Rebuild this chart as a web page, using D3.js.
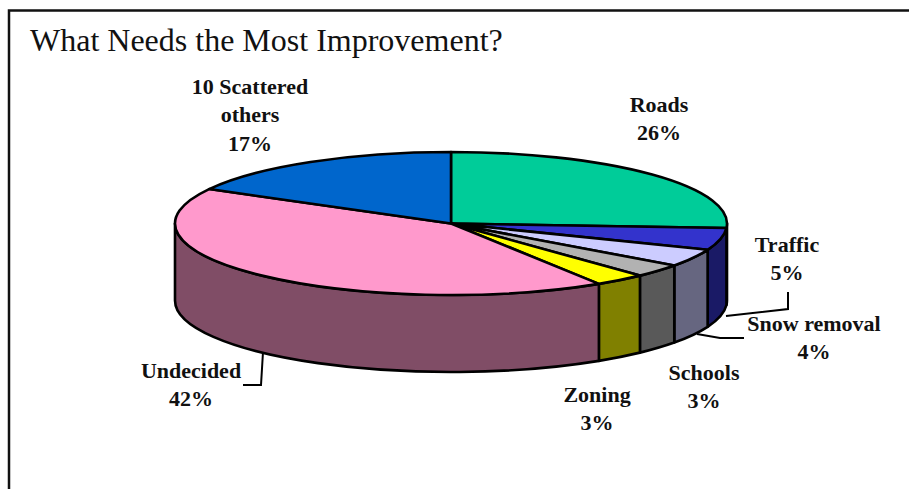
<!DOCTYPE html>
<html>
<head>
<meta charset="utf-8">
<script src="https://cdn.jsdelivr.net/npm/d3@7"></script>
<style>
html, body { margin: 0; padding: 0; background: #fff; }
svg { display: block; }
text { font-family: "Liberation Serif", serif; fill: #111; }
.lbl { font-size: 22px; font-weight: bold; text-anchor: middle; }
</style>
</head>
<body>
<svg id="chart" width="909" height="489"></svg>
<script>
var categories = ["Roads", "Traffic", "Snow removal", "Schools", "Zoning", "Undecided", "10 Scattered others"];
var values = [26, 5, 4, 3, 3, 42, 17];
var topColors = ["#00cc99", "#3333cc", "#ccccff", "#b2b2b2", "#ffff00", "#ff99cc", "#0066cc"];
var sideColors = ["#00664d", "#1a1a66", "#666680", "#595959", "#808000", "#804d66", "#003366"];

var cx = 451, cy = 223.5, rx = 276, ry = 71.5, depth = 77;

var svg = d3.select("#chart");

// frame, open at the right and bottom
svg.append("path")
    .attr("d", "M9,489V10.5H909")
    .attr("fill", "none")
    .attr("stroke", "#111")
    .attr("stroke-width", 2.5);

svg.append("text")
    .attr("x", 30)
    .attr("y", 51)
    .style("font-size", "32px")
    .text("What Needs the Most Improvement?");

var slices = d3.pie().sort(null)(values);

// angle is clockwise from 12 o'clock, flattened onto the ellipse
function pt(a)
{
    return [cx + rx * Math.sin(a), cy - ry * Math.cos(a)];
}

function topPath(d)
{
    var p0 = pt(d.startAngle), p1 = pt(d.endAngle);
    var large = d.endAngle - d.startAngle > Math.PI ? 1 : 0;
    return "M" + cx + "," + cy + "L" + p0 + "A" + rx + "," + ry + " 0 " + large + " 1 " + p1 + "Z";
}

// only the part of the rim between 90 and 270 degrees faces the viewer
function sidePath(d)
{
    var a0 = Math.max(d.startAngle, Math.PI / 2);
    var a1 = Math.min(d.endAngle, Math.PI * 1.5);
    if (a1 <= a0) return null;
    var p0 = pt(a0), p1 = pt(a1);
    return "M" + p0 + "A" + rx + "," + ry + " 0 0 1 " + p1
        + "V" + (p1[1] + depth)
        + "A" + rx + "," + ry + " 0 0 0 " + p0[0] + "," + (p0[1] + depth) + "Z";
}

svg.append("g").selectAll("path")
    .data(slices)
    .enter().append("path")
    .attr("d", sidePath)
    .attr("fill", function(d, i) { return sideColors[i]; })
    .attr("stroke", "#000")
    .attr("stroke-width", 2.6)
    .attr("stroke-linejoin", "round");

svg.append("g").selectAll("path")
    .data(slices)
    .enter().append("path")
    .attr("d", topPath)
    .attr("fill", function(d, i) { return topColors[i]; })
    .attr("stroke", "#000")
    .attr("stroke-width", 2.6)
    .attr("stroke-linejoin", "round");

// labels: lines of text per category, same order as categories
var labelLines = [["Roads", "26%"], ["Traffic", "5%"], ["Snow removal", "4%"], ["Schools", "3%"], ["Zoning", "3%"], ["Undecided", "42%"], ["10 Scattered", "others", "17%"]];
var labelX = [659, 787, 814, 704, 597, 191, 250];
var labelY = [111.5, 252, 331, 380, 402, 378, 94];

svg.append("g").selectAll("text")
    .data(labelLines)
    .enter().append("text")
    .attr("class", "lbl")
    .attr("transform", function(d, i) { return "translate(" + labelX[i] + "," + labelY[i] + ")"; })
    .selectAll("tspan")
    .data(function(d) { return d; })
    .enter().append("tspan")
    .attr("x", 0)
    .attr("y", function(d, i) { return i * 28.3; })
    .text(function(d) { return d; });

// leader lines
var leaders = [
    [[726, 316], [788, 309], [788, 292]],
    [[697, 334], [720, 338], [744, 338]],
    [[263, 352], [261, 385], [243, 385]]
];
svg.append("g").selectAll("path")
    .data(leaders)
    .enter().append("path")
    .attr("d", d3.line())
    .attr("fill", "none")
    .attr("stroke", "#000")
    .attr("stroke-width", 2);
</script>
</body>
</html>
